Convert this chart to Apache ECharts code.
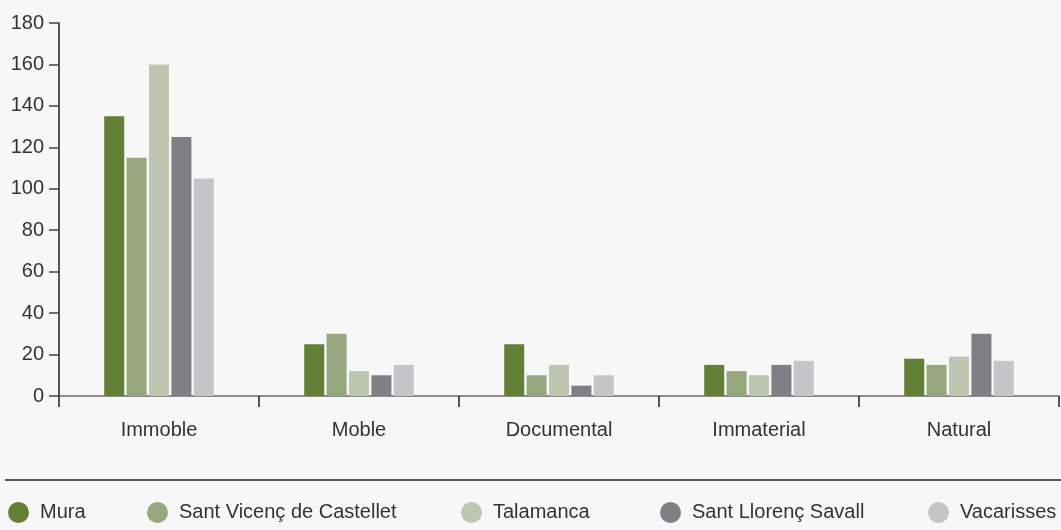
<!DOCTYPE html>
<html>
<head>
<meta charset="utf-8">
<script src="https://cdn.jsdelivr.net/npm/echarts@6/dist/echarts.min.js"></script>
<style>
  html, body { margin: 0; padding: 0; background: #f7f7f7; }
  #chart { width: 1061px; height: 530px; }
</style>
</head>
<body>
<div id="chart"></div>
<script>
    var categories = ['Immoble', 'Moble', 'Documental', 'Immaterial', 'Natural'];
    var seriesNames = ['Mura', 'Sant Vicenç de Castellet', 'Talamanca', 'Sant Llorenç Savall', 'Vacarisses'];
    var mura = [135, 25, 25, 15, 18];
    var santVicenc = [115, 30, 10, 12, 15];
    var talamanca = [160, 12, 15, 10, 19];
    var santLlorenc = [125, 10, 5, 15, 30];
    var vacarisses = [105, 15, 10, 17, 17];
    var yTicks = [0, 20, 40, 60, 80, 100, 120, 140, 160, 180];

    var colors = ['#628134', '#97a77e', '#bdc6b0', '#7f8084', '#c4c5c7'];
    var values = [mura, santVicenc, talamanca, santLlorenc, vacarisses];
    var legendLeft = [8, 147, 461, 660, 928];
    var font = 'Liberation Sans, Arial, sans-serif';

    var chart = echarts.init(document.getElementById('chart'), null, {
        renderer: 'canvas'
    });

    var series = seriesNames.map(function (name, i) {
        return {
            name: name,
            type: 'bar',
            data: values[i],
            barWidth: 20,
            barGap: '12%',
            itemStyle: { color: colors[i] }
        };
    });

    // one legend per item so each sits where the reference puts it
    var legends = seriesNames.map(function (name, i) {
        return {
            data: [name],
            left: legendLeft[i],
            top: 502,
            padding: 0,
            icon: 'circle',
            itemWidth: 21,
            itemHeight: 21,
            selectedMode: false,
            textStyle: {
                fontFamily: font,
                fontSize: 20,
                color: '#333',
                padding: [0, 0, 0, 6]
            }
        };
    });

    chart.setOption({
        backgroundColor: '#f7f7f7',
        animation: false,
        color: colors,
        legend: legends,
        grid: {
            left: 59,
            right: 2,
            top: 23,
            bottom: 134,
            containLabel: false
        },
        xAxis: {
            type: 'category',
            data: categories,
            axisLine: { lineStyle: { color: '#6a6a6a', width: 1.5 } },
            axisTick: {
                show: true,
                length: 11,
                alignWithLabel: false,
                lineStyle: { color: '#222', width: 1.5 }
            },
            axisLabel: {
                margin: 24,
                fontFamily: font,
                fontSize: 20,
                color: '#333'
            },
            splitLine: { show: false }
        },
        yAxis: {
            type: 'value',
            min: yTicks[0],
            max: yTicks[yTicks.length - 1],
            interval: yTicks[1] - yTicks[0],
            axisLine: { show: true, lineStyle: { color: '#222', width: 1.5 } },
            axisTick: {
                show: true,
                length: 10,
                lineStyle: { color: '#444', width: 1.5 }
            },
            axisLabel: {
                margin: 15,
                fontFamily: font,
                fontSize: 20,
                color: '#333'
            },
            splitLine: { show: false }
        },
        graphic: [
            {
                type: 'line',
                shape: { x1: 5, y1: 480, x2: 1061, y2: 480 },
                style: { stroke: '#222', lineWidth: 1.5 }
            }
        ],
        series: series
    });
</script>
</body>
</html>
